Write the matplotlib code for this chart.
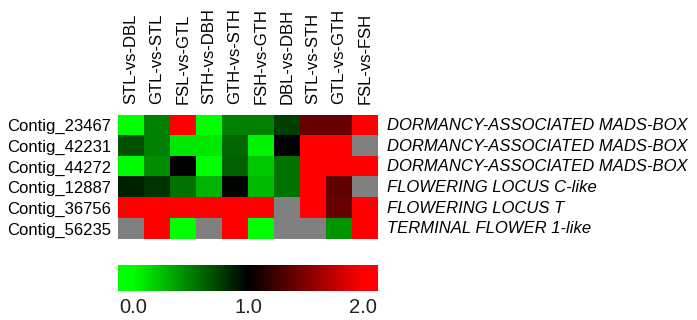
import numpy as np
import matplotlib
matplotlib.use("Agg")
import matplotlib.pyplot as plt
from matplotlib.colors import LinearSegmentedColormap

plt.rcParams['font.family'] = ['Liberation Sans', 'DejaVu Sans']

comparisons = ["STL-vs-DBL", "GTL-vs-STL", "FSL-vs-GTL", "STH-vs-DBH", "GTH-vs-STH",
               "FSH-vs-GTH", "DBL-vs-DBH", "STL-vs-STH", "GTL-vs-GTH", "FSL-vs-FSH"]
contigs = ["Contig_23467", "Contig_42231", "Contig_44272",
           "Contig_12887", "Contig_36756", "Contig_56235"]
genes = ["DORMANCY-ASSOCIATED MADS-BOX", "DORMANCY-ASSOCIATED MADS-BOX",
         "DORMANCY-ASSOCIATED MADS-BOX", "FLOWERING LOCUS C-like",
         "FLOWERING LOCUS T", "TERMINAL FLOWER 1-like"]

nan = np.nan
# fold change values, nan = no data (grey)
row_23467 = [0.0, 0.5, 2.0, 0.0, 0.5, 0.5, 0.75, 1.4, 1.4, 2.0]
row_42231 = [0.68, 0.5, 0.1, 0.1, 0.6, 0.05, 1.0, 2.0, 2.0, nan]
row_44272 = [0.02, 0.45, 1.0, 0.0, 0.62, 0.22, 0.55, 2.0, 2.0, 2.0]
row_12887 = [0.87, 0.8, 0.55, 0.3, 0.98, 0.28, 0.55, 2.0, 1.38, nan]
row_36756 = [2.0, 2.0, 2.0, 2.0, 2.0, 2.0, nan, 2.0, 1.4, 2.0]
row_56235 = [nan, 2.0, 0.0, nan, 2.0, 0.0, nan, nan, 0.42, 2.0]

values = np.ma.masked_invalid(np.array([row_23467, row_42231, row_44272,
                                        row_12887, row_36756, row_56235]))

cmap = LinearSegmentedColormap.from_list("gbr", ["#00ff00", "#000000", "#ff0000"])
cmap.set_bad("#808080")

fig = plt.figure(figsize=(6.97, 3.2), dpi=100)

ax = fig.add_axes([0.1693, 0.2531, 0.3730, 0.3875])
ax.imshow(values, cmap=cmap, vmin=0, vmax=2, aspect='auto', interpolation='nearest')
ax.xaxis.tick_top()
ax.set_xticks(range(len(comparisons)))
ax.set_xticklabels(comparisons, rotation=90, fontsize=12)
ax.set_yticks(range(len(contigs)))
ax.set_yticklabels(contigs, fontsize=12)
ax.tick_params(length=0)
ax.tick_params(axis='x', pad=8)
ax.tick_params(axis='y', pad=5)
for s in ax.spines.values():
    s.set_visible(False)

for i, g in enumerate(genes):
    ax.text(1.035, i, g, transform=ax.get_yaxis_transform(), fontsize=12,
            style='italic', va='center', ha='left')

# colour key
lo, hi = -0.13, 2.13
cax = fig.add_axes([0.1693, 0.0906, 0.3730, 0.0813])
grad = np.linspace(lo, hi, 512)[None, :]
cax.imshow(grad, cmap=cmap, vmin=0, vmax=2, aspect='auto',
           extent=[lo, hi, 0, 1])
cax.set_xlim(lo, hi)
cax.set_yticks([])
cax.set_xticks([0, 1, 2])
cax.set_xticklabels(["0.0", "1.0", "2.0"], fontsize=14.5, color='#222222')
cax.tick_params(length=0, pad=5)
for s in cax.spines.values():
    s.set_visible(False)

fig.savefig("out.png", dpi=100)
